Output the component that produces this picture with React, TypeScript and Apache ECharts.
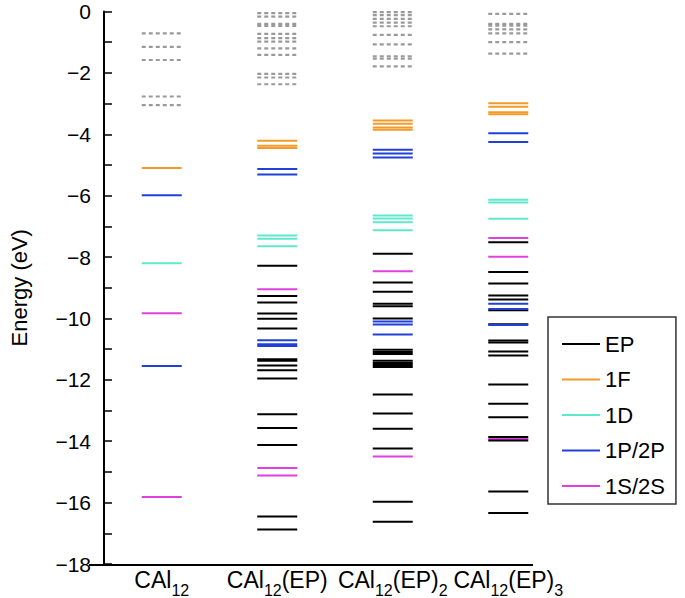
import React, { useEffect, useRef } from "react";
import * as echarts from "echarts";

// Column names (digits are drawn as subscripts)
const categories = ["CAl12", "CAl12(EP)", "CAl12(EP)2", "CAl12(EP)3"];

// Energy levels (eV), one array per column and orbital type
// Column 1: CAl12
const gray1 = [-0.71, -1.15, -1.58, -2.77, -3.05];
const ep1: number[] = [];
const f1 = [-5.1];
const d1 = [-8.2];
const p1 = [-5.99, -11.55];
const s1 = [-9.83, -15.82];

// Column 2: CAl12(EP)
const gray2 = [-0.05, -0.17, -0.4, -0.47, -0.73, -0.87, -0.98, -1.2, -1.41, -2.03, -2.15, -2.37];
const ep2 = [-8.28, -9.27, -9.48, -9.84, -10.01, -10.33, -11.33, -11.38, -11.53, -11.69, -11.96, -13.12, -13.57, -14.12, -16.45, -16.88];
const f2 = [-4.21, -4.37, -4.45];
const d2 = [-7.3, -7.4, -7.65];
const p2 = [-5.13, -5.31, -10.71, -10.84, -10.9];
const s2 = [-9.05, -14.87, -15.12];

// Column 3: CAl12(EP)2
const gray3 = [-0.02, -0.12, -0.24, -0.36, -0.48, -0.76, -1.07, -1.46, -1.54, -1.79];
const ep3 = [-7.89, -8.83, -9.13, -9.52, -9.6, -10.0, -11.02, -11.09, -11.16, -11.38, -11.45, -11.52, -11.58, -12.48, -13.1, -13.59, -14.24, -15.97, -16.62];
const f3 = [-3.55, -3.66, -3.78, -3.85];
const d3 = [-6.65, -6.74, -6.87, -7.13];
const p3 = [-4.5, -4.63, -4.76, -10.1, -10.2, -10.52];
const s3 = [-8.46, -14.5];

// Column 4: CAl12(EP)3
const gray4 = [-0.08, -0.4, -0.46, -0.58, -0.71, -1.0, -1.37];
const ep4 = [-7.52, -8.49, -8.86, -9.25, -9.38, -9.73, -10.19, -10.72, -10.78, -11.08, -11.21, -12.15, -12.78, -13.22, -13.86, -13.98, -15.64, -16.34];
const f4 = [-2.99, -3.1, -3.28, -3.35];
const d4 = [-6.13, -6.22, -6.75];
const p4 = [-3.97, -4.25, -9.52, -9.69, -10.21];
const s4 = [-7.38, -7.99, -13.93];

const yTicks = [0, -2, -4, -6, -8, -10, -12, -14, -16, -18];

const FONT = "'Liberation Sans', Arial, Helvetica, sans-serif";
const HALF_WIDTH = 20; // half length of a level line, px

function toPoints(cols: number[][]) {
  const out: number[][] = [];
  cols.forEach((col, i) => col.forEach((e) => out.push([i, e])));
  return out;
}

function levelSeries(name: string, color: string, data: number[][], dashed = false) {
  return {
    type: "custom",
    name,
    xAxisIndex: 0,
    yAxisIndex: 0,
    itemStyle: { color },
    encode: { x: 0, y: 1 },
    data,
    renderItem: (params: any, api: any) => {
      const p = api.coord([api.value(0), api.value(1)]);
      return {
        type: "line",
        shape: { x1: p[0] - HALF_WIDTH, y1: p[1], x2: p[0] + HALF_WIDTH, y2: p[1] },
        style: dashed
          ? { stroke: color, lineWidth: 2.2, lineDash: [4, 3] }
          : { stroke: color, lineWidth: 2 },
      };
    },
  };
}

function richLabel(v: string) {
  const parts = v.match(/(\d+|[^\d]+)/g) || [];
  return parts.map((p) => (/^\d+$/.test(p) ? `{s|${p}}` : `{n|${p}}`)).join("");
}

export default function App() {
  const ref = useRef<HTMLDivElement>(null);
  useEffect(() => {
    if (!ref.current) return;
    const chart = echarts.init(ref.current, null, { renderer: "svg" });
    const option: any = {
      animation: false,
      backgroundColor: "#fff",
      textStyle: { fontFamily: FONT },
      grid: { left: 90, right: 119, top: 11.5, bottom: 33 },
      xAxis: {
        type: "category",
        data: categories,
        boundaryGap: true,
        axisLine: { show: false },
        axisTick: { show: false },
        splitLine: { show: false },
        axisLabel: {
          interval: 0,
          margin: 4,
          color: "#000",
          fontFamily: FONT,
          formatter: (v: string) => richLabel(v),
          rich: {
            n: { fontSize: 23, lineHeight: 25, verticalAlign: "top", color: "#000", fontFamily: FONT },
            s: { fontSize: 16, lineHeight: 16, verticalAlign: "top", padding: [14, 0, 0, 0], color: "#000", fontFamily: FONT },
          },
        },
      },
      yAxis: {
        type: "value",
        min: -18,
        max: 0,
        interval: 2,
        name: "Energy (eV)",
        nameLocation: "middle",
        nameGap: 74,
        nameTextStyle: { fontSize: 22, color: "#000", fontFamily: FONT },
        axisLine: { show: true, onZero: false, lineStyle: { color: "#000", width: 2 } },
        axisTick: { show: true, inside: true, length: 8, lineStyle: { color: "#000", width: 1.5 } },
        minorTick: { show: true, splitNumber: 2, length: 8, lineStyle: { color: "#000", width: 1.5 } },
        splitLine: { show: false },
        axisLabel: {
          margin: 13,
          fontSize: 21,
          color: "#000",
          fontFamily: FONT,
          formatter: (v: number) => (yTicks.includes(v) ? (v < 0 ? "\u2212" + Math.abs(v) : String(v)) : ""),
        },
      },
      graphic: [
        {
          type: "line",
          z: 100,
          shape: { x1: 89, y1: 565, x2: 533, y2: 565 },
          style: { stroke: "#000", lineWidth: 2 },
          silent: true,
        },
      ],
      legend: {
        orient: "vertical",
        left: 548,
        top: 317,
        data: ["EP", "1F", "1D", "1P/2P", "1S/2S"],
        icon: "rect",
        itemWidth: 38,
        itemHeight: 2,
        itemGap: 13.5,
        itemTextGap: 10,
        padding: [16, 11, 7, 14],
        borderColor: "#333",
        borderWidth: 1.5,
        textStyle: { fontSize: 22, lineHeight: 21, color: "#000", fontFamily: FONT },
      },
      series: [
        levelSeries("unoccupied", "#9a9a9a", toPoints([gray1, gray2, gray3, gray4]), true),
        levelSeries("1F", "#f39a2b", toPoints([f1, f2, f3, f4])),
        levelSeries("1D", "#5fe8cc", toPoints([d1, d2, d3, d4])),
        levelSeries("1S/2S", "#e040e0", toPoints([s1, s2, s3, s4])),
        levelSeries("EP", "#000000", toPoints([ep1, ep2, ep3, ep4])),
        levelSeries("1P/2P", "#2040d8", toPoints([p1, p2, p3, p4])),
      ],
    };
    chart.setOption(option);
    return () => chart.dispose();
  }, []);
  return (
    <div
      ref={ref}
      style={{ position: "fixed", left: 0, top: 0, width: 685, height: 598, background: "#fff" }}
    />
  );
}
